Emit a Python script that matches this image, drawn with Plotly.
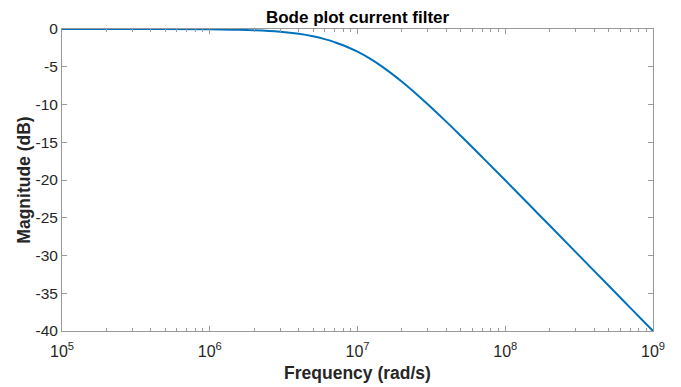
import plotly.graph_objects as go

# Frequency (rad/s) and magnitude (dB)
freq = [1e5, 3e5, 1e6, 1.5e6, 2e6, 3e6, 4e6, 5e6, 6e6, 7e6, 8e6, 1e7, 1.2e7, 1.5e7,
        2e7, 2.5e7, 3e7, 4e7, 5e7, 7e7, 1e8, 1.5e8, 2e8, 3e8, 5e8, 7e8, 1e9]
mag_db = [0.0, -0.004, -0.04, -0.1, -0.17, -0.37, -0.64, -0.97, -1.34, -1.74, -2.15,
          -3.01, -3.87, -5.12, -6.99, -8.6, -10.0, -12.3, -14.15, -16.99, -20.04,
          -23.55, -26.03, -29.55, -33.98, -36.9, -40.0]

xtick_vals = [1e5, 1e6, 1e7, 1e8, 1e9]
xtick_text = ["10<sup>5</sup>", "10<sup>6</sup>", "10<sup>7</sup>", "10<sup>8</sup>", "10<sup>9</sup>"]
ytick_vals = [0, -5, -10, -15, -20, -25, -30, -35, -40]
ytick_text = ["0", "-5", "-10", "-15", "-20", "-25", "-30", "-35", "-40"]

fig = go.Figure()
fig.add_trace(go.Scatter(x=freq, y=mag_db, mode="lines",
                         line=dict(color="#0072BD", width=2), line_shape="spline"))

axcol = "#999999"
txtcol = "#262626"
fig.update_layout(
    width=681, height=387,
    margin=dict(l=62, r=28, t=29, b=56, autoexpand=False),
    paper_bgcolor="white", plot_bgcolor="white",
    showlegend=False,
    font=dict(family="Liberation Sans, Arial, sans-serif", color=txtcol, size=15),
    title=dict(text="<b>Bode plot current filter</b>", x=0.525, xanchor="center",
               y=0.955, yanchor="middle", font=dict(size=17, color="black")),
)
fig.update_xaxes(
    type="log", range=[5, 9], tickvals=xtick_vals, ticktext=xtick_text,
    showline=True, linecolor=axcol, linewidth=1, mirror="ticks",
    ticks="inside", ticklen=5, tickcolor=axcol, showgrid=False, zeroline=False,
    tickfont=dict(size=16, color=txtcol), automargin=False, ticklabelstandoff=6,
    minor=dict(ticks="inside", ticklen=3, tickcolor=axcol, dtick="D1", showgrid=False),
    title=dict(text="<b>Frequency (rad/s)</b>", font=dict(size=17.5, color=txtcol), standoff=7),
)
fig.update_yaxes(
    range=[-40, 0], tickvals=ytick_vals, ticktext=ytick_text,
    showline=True, linecolor=axcol, linewidth=1, mirror="ticks",
    ticks="inside", ticklen=5, tickcolor=axcol, showgrid=False, zeroline=False,
    tickfont=dict(size=15.5, color=txtcol), automargin=False,
    title=dict(text="<b>Magnitude (dB)</b>", font=dict(size=17.5, color=txtcol), standoff=0),
)

fig.write_html("out.html", config={"displayModeBar": False},
               post_script="document.body.style.margin='0';")
